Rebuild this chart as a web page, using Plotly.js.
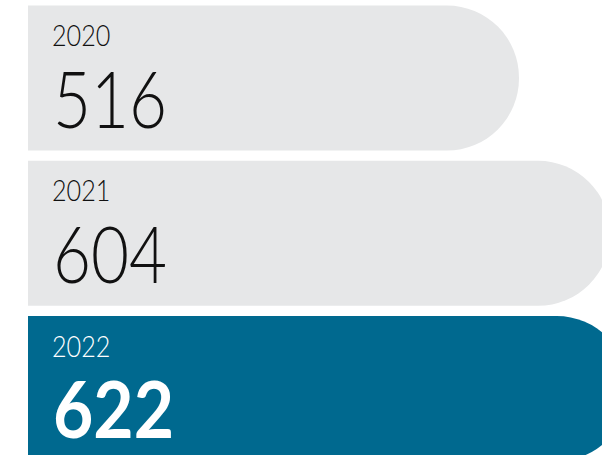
<!DOCTYPE html>
<html>
<head>
<meta charset="utf-8">
<script src="https://cdn.plot.ly/plotly-3.0.1.min.js"></script>
<style>
  html, body { margin: 0; padding: 0; background: #ffffff; }
  #chart { width: 602px; height: 455px; }
  #chart .annotation text.annotation-text { transform-box: fill-box; transform-origin: 0% 50%; }
</style>
</head>
<body>
<div id="chart"></div>
<script>
// ---- data ----
const years = ['2020', '2021', '2022'];
const values = [516, 604, 622];
const valueLabels = ['516', '604', '622'];

// ---- styling ----
const GREY = '#e6e7e8';
const BLUE = '#00698f';
const highlightIndex = years.length - 1;
const barColors = years.map((_, i) => i === highlightIndex ? BLUE : GREY);
const textColors = years.map((_, i) => i === highlightIndex ? '#ffffff' : '#111111');

const trace = {
  type: 'bar',
  orientation: 'h',
  x: values,
  y: years,
  width: 0.9337,
  marker: { color: barColors, cornerradius: 72, line: { width: 0 } },
  hoverinfo: 'none',
  showlegend: false
};

const hiddenAxis = { showgrid: false, zeroline: false, showline: false, showticklabels: false, ticks: '', fixedrange: true };

const LIGHT = 'Lato, "Open Sans", sans-serif';
const annotations = [];
const squeeze = [];
years.forEach((yr, i) => {
  annotations.push({
    xref: 'paper', yref: 'y', x: 0.0425, y: i,
    xanchor: 'left', yanchor: 'middle', yshift: 44,
    text: yr, showarrow: false, borderpad: 0, borderwidth: 0,
    font: { family: LIGHT, size: 30, color: textColors[i], weight: 300 }
  });
  squeeze.push(0.84);
  const bold = i === highlightIndex;
  annotations.push({
    xref: 'paper', yref: 'y', x: 0.044, y: i,
    xanchor: 'left', yanchor: 'middle', yshift: -19,
    text: valueLabels[i], showarrow: false, borderpad: 0, borderwidth: 0,
    font: bold
      ? { family: LIGHT, size: 79, color: textColors[i], weight: 700 }
      : { family: LIGHT, size: 79, color: textColors[i], weight: 300 }
  });
  squeeze.push(bold ? 0.88 : 0.83);
});

const layout = {
  width: 602, height: 455,
  margin: { l: 28, r: 0, t: 0, b: 0, pad: 0 },
  paper_bgcolor: '#ffffff', plot_bgcolor: '#ffffff',
  xaxis: Object.assign({ range: [41.6, 596.2] }, hiddenAxis),
  yaxis: Object.assign({ type: 'category', range: [2.4275, -0.5023] }, hiddenAxis),
  annotations: annotations,
  showlegend: false
};

Plotly.newPlot('chart', [trace], layout, { staticPlot: true, displayModeBar: false }).then(gd => {
  gd.querySelectorAll('.annotation').forEach(g => {
    const idx = +g.getAttribute('data-index');
    const t = g.querySelector('text.annotation-text');
    if (t && squeeze[idx]) t.style.transform = 'scaleX(' + squeeze[idx] + ')';
  });
});
</script>
</body>
</html>
